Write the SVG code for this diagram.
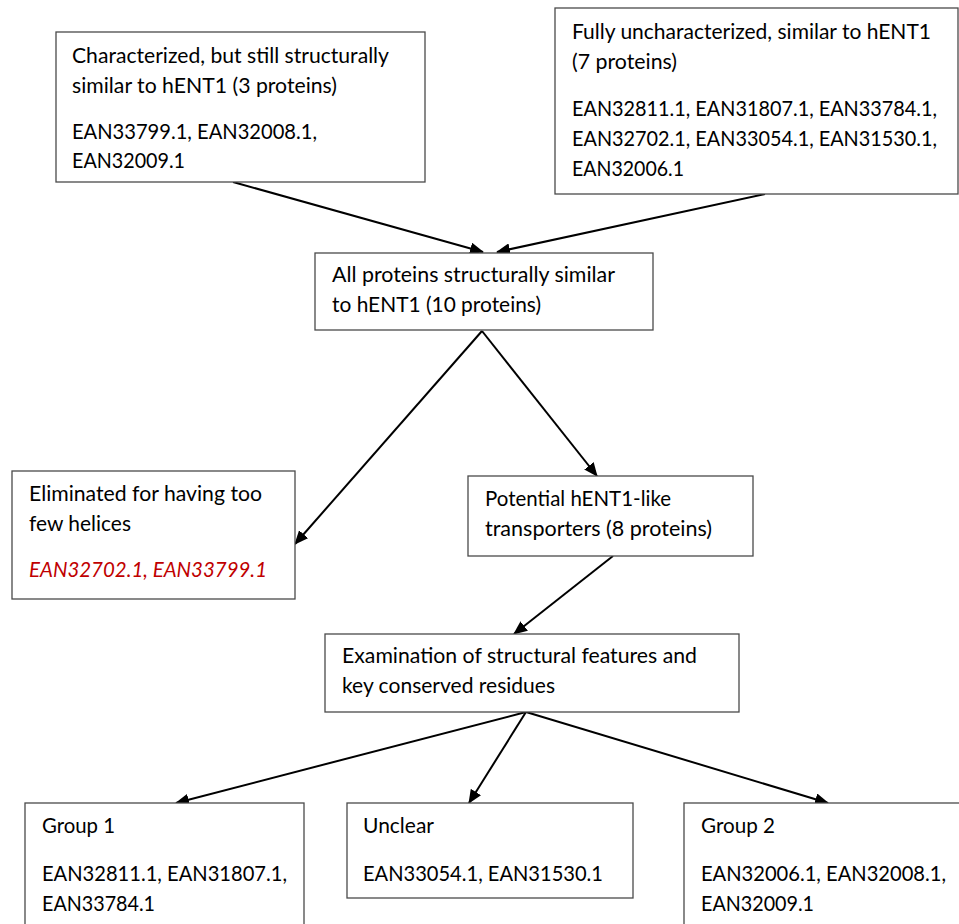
<svg xmlns="http://www.w3.org/2000/svg" width="959" height="924" viewBox="0 0 959 924">
<style>
.box{fill:#fff;stroke:#4a4a4a;stroke-width:1.3}
text{font-family:Lato,"Open Sans","Liberation Sans",sans-serif;font-size:20.3px;fill:#000}
.red{fill:#c00000;font-style:italic}
.conn line{stroke:#000;stroke-width:2;marker-end:url(#ah)}
</style>
<defs>
<marker id="ah" viewBox="0 0 14 12" refX="13" refY="6" markerWidth="14" markerHeight="12" markerUnits="userSpaceOnUse" orient="auto">
<path d="M0,0 L14,6 L0,12 z" fill="#000"/>
</marker>
</defs>
<rect width="959" height="924" fill="#fff"/>
<g class="conn">
<line x1="233" y1="182" x2="483" y2="252"/>
<line x1="765" y1="194" x2="497" y2="252"/>
<line x1="482" y1="331" x2="295" y2="544"/>
<line x1="482" y1="331" x2="597" y2="476"/>
<line x1="613" y1="556" x2="514" y2="634"/>
<line x1="526" y1="712" x2="176" y2="803"/>
<line x1="526" y1="712" x2="469" y2="803"/>
<line x1="526" y1="712" x2="828" y2="803"/>
</g>
<g id="characterized">
<rect class="box" x="56" y="32" width="369" height="150"/>
<text x="72" y="63" textLength="317" lengthAdjust="spacingAndGlyphs">Characterized, but still structurally</text>
<text x="72" y="93" textLength="265" lengthAdjust="spacingAndGlyphs">similar to hENT1 (3 proteins)</text>
<text x="72" y="139" textLength="245" lengthAdjust="spacingAndGlyphs">EAN33799.1, EAN32008.1,</text>
<text x="72" y="168" textLength="113" lengthAdjust="spacingAndGlyphs">EAN32009.1</text>
</g>
<g id="uncharacterized">
<rect class="box" x="555" y="8" width="403" height="186"/>
<text x="572" y="39" textLength="359" lengthAdjust="spacingAndGlyphs">Fully uncharacterized, similar to hENT1</text>
<text x="572" y="69" textLength="105" lengthAdjust="spacingAndGlyphs">(7 proteins)</text>
<text x="572" y="116" textLength="365" lengthAdjust="spacingAndGlyphs">EAN32811.1, EAN31807.1, EAN33784.1,</text>
<text x="572" y="146" textLength="365" lengthAdjust="spacingAndGlyphs">EAN32702.1, EAN33054.1, EAN31530.1,</text>
<text x="572" y="176" textLength="112" lengthAdjust="spacingAndGlyphs">EAN32006.1</text>
</g>
<g id="all">
<rect class="box" x="315" y="253" width="338" height="77"/>
<text x="332" y="282" textLength="283" lengthAdjust="spacingAndGlyphs">All proteins structurally similar</text>
<text x="332" y="312" textLength="209" lengthAdjust="spacingAndGlyphs">to hENT1 (10 proteins)</text>
</g>
<g id="eliminated">
<rect class="box" x="12" y="471" width="283" height="128"/>
<text x="29" y="501" textLength="233" lengthAdjust="spacingAndGlyphs">Eliminated for having too</text>
<text x="29" y="531" textLength="102" lengthAdjust="spacingAndGlyphs">few helices</text>
<text class="red" x="29" y="577" textLength="238" lengthAdjust="spacingAndGlyphs">EAN32702.1, EAN33799.1</text>
</g>
<g id="potential">
<rect class="box" x="468" y="476" width="285" height="80"/>
<text x="485" y="506" textLength="186" lengthAdjust="spacingAndGlyphs">Potential hENT1-like</text>
<text x="485" y="536" textLength="227" lengthAdjust="spacingAndGlyphs">transporters (8 proteins)</text>
</g>
<g id="examination">
<rect class="box" x="325" y="634" width="414" height="78"/>
<text x="342" y="663" textLength="355" lengthAdjust="spacingAndGlyphs">Examination of structural features and</text>
<text x="342" y="693" textLength="213" lengthAdjust="spacingAndGlyphs">key conserved residues</text>
</g>
<g id="group1">
<rect class="box" x="25" y="803" width="279" height="130"/>
<text x="42" y="833" textLength="73" lengthAdjust="spacingAndGlyphs">Group 1</text>
<text x="42" y="881" textLength="245" lengthAdjust="spacingAndGlyphs">EAN32811.1, EAN31807.1,</text>
<text x="42" y="911" textLength="113" lengthAdjust="spacingAndGlyphs">EAN33784.1</text>
</g>
<g id="unclear">
<rect class="box" x="347" y="803" width="286" height="95"/>
<text x="363" y="833" textLength="71" lengthAdjust="spacingAndGlyphs">Unclear</text>
<text x="363" y="881" textLength="240" lengthAdjust="spacingAndGlyphs">EAN33054.1, EAN31530.1</text>
</g>
<g id="group2">
<rect class="box" x="684" y="803" width="280" height="130"/>
<text x="701" y="833" textLength="74" lengthAdjust="spacingAndGlyphs">Group 2</text>
<text x="701" y="881" textLength="245" lengthAdjust="spacingAndGlyphs">EAN32006.1, EAN32008.1,</text>
<text x="701" y="911" textLength="113" lengthAdjust="spacingAndGlyphs">EAN32009.1</text>
</g>
</svg>
